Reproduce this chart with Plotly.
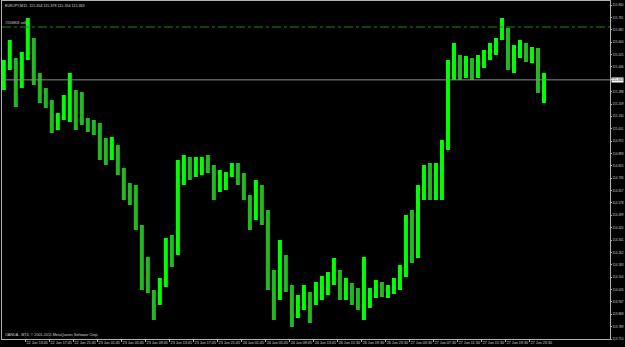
import plotly.graph_objects as go

# Hourly aggregates of the M15 EURJPY bars (prices)
bar_open = [115.362, 115.477, 115.489, 115.330, 115.502, 115.617, 115.394, 115.266, 115.234, 115.075,
            115.119, 115.234, 115.266, 115.234, 115.119, 115.075, 115.062, 114.947, 114.915, 114.947,
            114.800, 114.660, 114.628, 114.418, 114.227, 114.010, 113.959, 114.054, 114.309, 114.278,
            114.756, 114.820, 114.788, 114.820, 114.839, 114.788, 114.692, 114.724, 114.750, 114.800,
            114.756, 114.628, 114.501, 114.660, 114.501, 114.150, 113.991, 114.150, 114.054, 113.895,
            113.959, 113.991, 113.940, 114.022, 114.054, 114.086, 114.150, 114.022, 114.035, 113.971,
            113.959, 113.971, 113.991, 114.035, 114.010, 114.022, 114.061, 114.150, 114.405, 114.246,
            114.628, 114.724, 114.660, 114.724, 114.915, 115.426, 115.489, 115.426, 115.457, 115.413,
            115.489, 115.521, 115.553, 115.630, 115.681, 115.477, 115.521, 115.585, 115.521, 115.540,
            115.330]
bar_high = [115.489, 115.617, 115.502, 115.540, 115.757, 115.630, 115.406, 115.311, 115.234, 115.151,
            115.266, 115.406, 115.298, 115.285, 115.119, 115.107, 115.088, 114.992, 114.998, 114.947,
            114.800, 114.705, 114.692, 114.437, 114.233, 114.022, 114.099, 114.354, 114.373, 114.852,
            114.883, 114.871, 114.871, 114.871, 114.883, 114.820, 114.788, 114.775, 114.832, 114.832,
            114.769, 114.628, 114.724, 114.692, 114.533, 114.150, 114.341, 114.246, 114.054, 113.991,
            114.054, 114.010, 114.073, 114.112, 114.137, 114.227, 114.150, 114.099, 114.067, 114.035,
            114.233, 114.035, 114.086, 114.073, 114.054, 114.099, 114.182, 114.501, 114.533, 114.692,
            114.820, 114.832, 114.832, 114.979, 115.489, 115.598, 115.521, 115.515, 115.502, 115.521,
            115.553, 115.598, 115.630, 115.757, 115.693, 115.585, 115.617, 115.598, 115.572, 115.566,
            115.406]
bar_low = [115.298, 115.426, 115.190, 115.311, 115.489, 115.330, 115.215, 115.183, 115.024, 115.043,
           115.107, 115.094, 115.043, 115.075, 115.030, 115.011, 114.852, 114.820, 114.852, 114.756,
           114.596, 114.565, 114.405, 114.022, 114.003, 113.831, 113.927, 114.042, 114.169, 114.246,
           114.692, 114.724, 114.743, 114.756, 114.769, 114.596, 114.647, 114.660, 114.743, 114.692,
           114.596, 114.405, 114.469, 114.437, 114.022, 113.831, 113.959, 114.010, 113.786, 113.844,
           113.895, 113.812, 113.927, 113.959, 113.991, 114.054, 113.959, 113.959, 113.927, 113.895,
           113.831, 113.908, 113.971, 113.978, 113.971, 113.997, 114.022, 114.105, 114.195, 114.227,
           114.596, 114.596, 114.596, 114.596, 114.915, 115.362, 115.362, 115.375, 115.362, 115.375,
           115.438, 115.489, 115.521, 115.617, 115.426, 115.406, 115.502, 115.477, 115.470, 115.279,
           115.215]
bar_close = [115.477, 115.489, 115.330, 115.502, 115.649, 115.394, 115.266, 115.234, 115.075, 115.119,
             115.234, 115.266, 115.234, 115.119, 115.075, 115.062, 114.947, 114.915, 114.947, 114.800,
             114.660, 114.628, 114.501, 114.278, 114.054, 113.895, 114.054, 114.309, 114.246, 114.756,
             114.820, 114.788, 114.820, 114.839, 114.788, 114.692, 114.724, 114.737, 114.800, 114.756,
             114.628, 114.469, 114.660, 114.501, 114.150, 113.959, 114.150, 114.054, 113.895, 113.959,
             113.991, 113.927, 114.022, 114.054, 114.086, 114.150, 114.022, 114.035, 113.971, 113.959,
             113.971, 113.991, 114.035, 114.010, 114.022, 114.061, 114.150, 114.405, 114.246, 114.628,
             114.724, 114.660, 114.724, 114.915, 115.426, 115.489, 115.426, 115.457, 115.413, 115.489,
             115.521, 115.553, 115.604, 115.681, 115.477, 115.521, 115.585, 115.521, 115.540, 115.330,
             115.363]

time_labels = ["22 Jun 2011", "22 Jun 13:45", "22 Jun 17:45", "22 Jun 21:45", "23 Jun 01:45",
               "23 Jun 05:45", "23 Jun 09:45", "23 Jun 13:45", "23 Jun 17:45", "23 Jun 21:45",
               "24 Jun 01:45", "24 Jun 05:45", "24 Jun 09:45", "24 Jun 13:45", "26 Jun 15:30",
               "26 Jun 19:30", "26 Jun 23:30", "27 Jun 03:30", "27 Jun 07:30", "27 Jun 11:30",
               "27 Jun 15:30", "27 Jun 19:30", "27 Jun 23:30"]

price_labels = ["113.710", "113.789", "113.868", "113.947", "114.026", "114.104", "114.183",
                "114.262", "114.341", "114.420", "114.499", "114.578", "114.657", "114.736",
                "114.815", "114.893", "114.972", "115.051", "115.130", "115.209", "115.288",
                "115.367", "115.446", "115.525", "115.604", "115.682", "115.761", "115.840"]

symbol_info = "EURJPY,M15  115.354 115.378 115.354 115.363"
order_price = 115.700
order_label = "#156803 sell"
current_price = 115.363
copyright_text = "OANDA - MT4, © 2001-2011 MetaQuotes Software Corp."

n = len(bar_close)
x = list(range(n))
tick_pos = [4 * m - 0.375 for m in range(len(time_labels))]
price_vals = [float(v) for v in price_labels]
# the current-price box covers the tick label nearest to it
price_text = ["" if abs(v - current_price) < 0.02 else t for v, t in zip(price_vals, price_labels)]

FONT = "Liberation Sans"
FS = 3.7
FSY = 3.1
TXT = "#d4d4d4"
AX = "#b0b0b0"

fig = go.Figure()
fig.add_trace(go.Ohlc(
    x=x, open=bar_open, high=bar_high, low=bar_low, close=bar_close,
    increasing=dict(line=dict(color="#00ff00", width=4)),
    decreasing=dict(line=dict(color="#22b822", width=4)),
    tickwidth=0.05, showlegend=False, hoverinfo="skip",
))

fig.add_hline(y=current_price, line=dict(color="#8c8c8c", width=1))
fig.add_hline(y=order_price, line=dict(color="#1c8a1c", width=1, dash="dashdot"))

fig.add_annotation(x=0, xref="paper", y=order_price, yref="y", text=order_label,
                   showarrow=False, xanchor="left", yanchor="bottom", xshift=1, yshift=0,
                   font=dict(family=FONT, size=FS, color=TXT))
fig.add_annotation(x=0, xref="paper", y=1, yref="paper", text=symbol_info,
                   showarrow=False, xanchor="left", yanchor="top", xshift=1, yshift=-1,
                   font=dict(family=FONT, size=FS, color=TXT))
fig.add_annotation(x=0, xref="paper", y=0, yref="paper", text=copyright_text,
                   showarrow=False, xanchor="left", yanchor="bottom", xshift=1, yshift=0,
                   font=dict(family=FONT, size=FS, color=TXT))
fig.add_annotation(x=1, xref="paper", y=current_price, yref="y", text=f"{current_price:.3f}",
                   showarrow=False, xanchor="left", yanchor="middle", xshift=1,
                   bgcolor="#ffffff", borderpad=0,
                   font=dict(family=FONT, size=FSY, color="#000000"))

fig.update_layout(
    width=625, height=347,
    margin=dict(l=2, r=15, t=1, b=8),
    paper_bgcolor="#000000", plot_bgcolor="#000000",
    font=dict(family=FONT, size=FS, color=TXT),
    xaxis=dict(range=[-0.3, 101.0], tickvals=tick_pos, ticktext=time_labels,
               showgrid=False, zeroline=False, rangeslider=dict(visible=False),
               showline=True, linecolor=AX, linewidth=1, mirror=True,
               ticks="outside", ticklen=2, tickcolor=AX, tickangle=0,
               ticklabelposition="outside right", automargin=False,
               tickfont=dict(family=FONT, size=FS, color=TXT)),
    yaxis=dict(range=[113.710, 115.866], tickvals=price_vals, ticktext=price_text,
               side="right", showgrid=False, zeroline=False,
               showline=True, linecolor=AX, linewidth=1, mirror=True,
               ticks="outside", ticklen=1, tickcolor=AX, automargin=False,
               tickfont=dict(family=FONT, size=FSY, color=TXT)),
)

fig.write_html("out.html")
